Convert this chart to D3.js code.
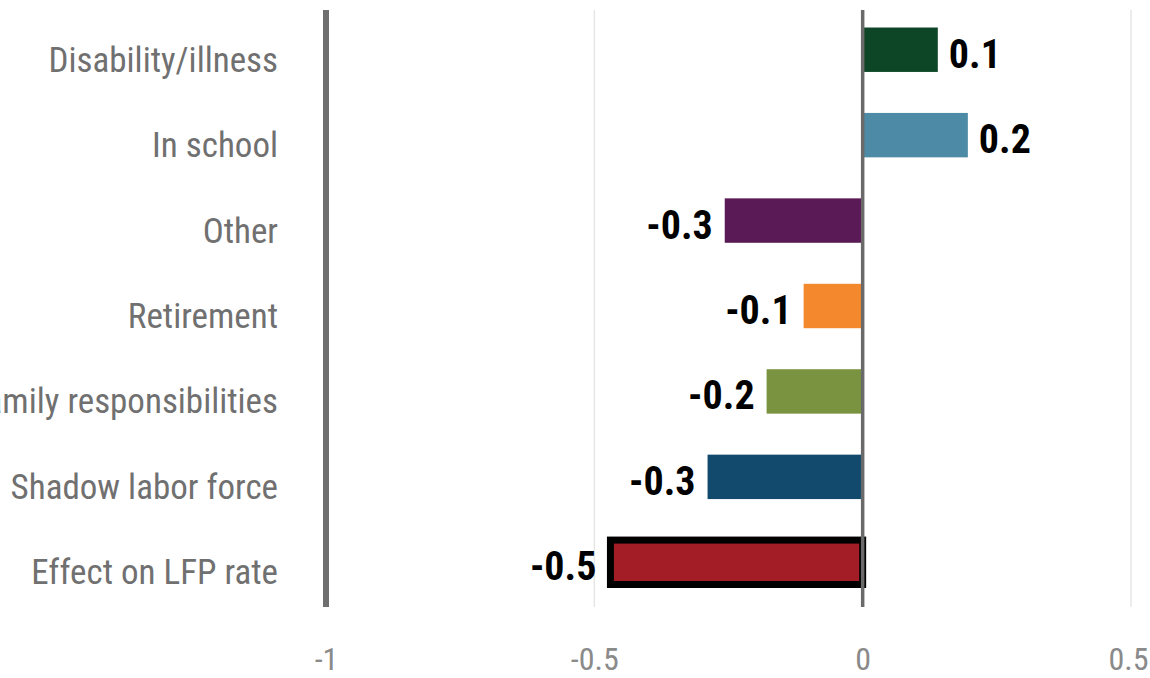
<!DOCTYPE html>
<html><head><meta charset="utf-8">
<script src="https://cdn.jsdelivr.net/npm/d3@7"></script>
<style>
body{margin:0;background:#fff;}
svg{display:block;}
text{font-family:"Liberation Sans Narrow","Arial Narrow","Roboto Condensed",sans-serif;}
</style>
</head><body>
<svg id="chart" width="1150" height="678"></svg>
<script>
const categories = ["Disability/illness","In school","Other","Retirement","Family responsibilities","Shadow labor force","Effect on LFP rate"];
const values = [0.14, 0.196, -0.257, -0.11, -0.179, -0.289, -0.47];
const valueLabels = ["0.1","0.2","-0.3","-0.1","-0.2","-0.3","-0.5"];
const colors = ["#0c4626","#4d8aa6","#5a1a55","#f4882c","#7a9340","#124a6e","#a31d26"];
const tickValues = [-1, -0.5, 0, 0.5];
const tickLabels = ["-1","-0.5","0","0.5"];

const svg = d3.select("#chart");
const x = d3.scaleLinear().domain([-1, 0.5]).range([326, 1131]);
const y = d3.scaleBand().domain(categories).range([7, 605]).paddingInner(0.48).paddingOuter(0.24);
const lineTop = 10, lineBottom = 607;

// gridlines
svg.append("g").selectAll("line").data([-0.5, 0.5]).join("line")
  .attr("x1", d => x(d)).attr("x2", d => x(d))
  .attr("y1", lineTop).attr("y2", lineBottom)
  .attr("stroke", "#e6e6e6").attr("stroke-width", 1.5);

// bars
const data = categories.map((c, i) => ({c, v: values[i], label: valueLabels[i], color: colors[i], i}));
const last = categories.length - 1;
svg.append("g").selectAll("rect").data(data).join("rect")
  .attr("x", d => Math.min(x(0), x(d.v)))
  .attr("width", d => Math.abs(x(d.v) - x(0)))
  .attr("y", d => y(d.c))
  .attr("height", y.bandwidth())
  .attr("fill", d => d.color)
  .attr("stroke", d => d.i === last ? "#000" : "none")
  .attr("stroke-width", d => d.i === last ? 7 : 0);

// left axis line at -1
svg.append("line")
  .attr("x1", x(-1)).attr("x2", x(-1))
  .attr("y1", lineTop).attr("y2", lineBottom)
  .attr("stroke", "#6f6f6f").attr("stroke-width", 6);

// zero line
svg.append("line")
  .attr("x1", x(0)).attr("x2", x(0))
  .attr("y1", lineTop).attr("y2", lineBottom)
  .attr("stroke", "#6a6a6a").attr("stroke-width", 3.5);

// category axis
const yAxis = d3.axisLeft(y).tickSize(0).tickPadding(48);
const gy = svg.append("g").attr("transform", `translate(${x(-1)},0)`).call(yAxis);
gy.select(".domain").remove();
gy.selectAll("text")
  .attr("dy", "0.63em")
  .attr("fill", "#707070")
  .style("font-size", "35px");

// x axis
const xAxis = d3.axisBottom(x).tickValues(tickValues).tickFormat((d, i) => tickLabels[i]).tickSize(0).tickPadding(0);
const gx = svg.append("g").attr("transform", `translate(0,670)`).call(xAxis);
gx.select(".domain").remove();
gx.selectAll("text")
  .attr("y", 0).attr("dy", 0)
  .attr("dx", (d, i) => i === tickValues.length - 1 ? -3 : 0)
  .attr("fill", "#8a8a8a")
  .style("font-size", "32px");

// value labels
svg.append("g").selectAll("text").data(data).join("text")
  .attr("x", d => d.v >= 0 ? x(d.v) + 11 : x(d.v) - (d.i === last ? 14 : 12))
  .attr("y", d => y(d.c) + y.bandwidth() / 2 + 18)
  .attr("text-anchor", d => d.v >= 0 ? "start" : "end")
  .attr("fill", "#000")
  .style("font-size", "40px")
  .style("font-weight", "bold")
  .text(d => d.label);
</script>
</body></html>
